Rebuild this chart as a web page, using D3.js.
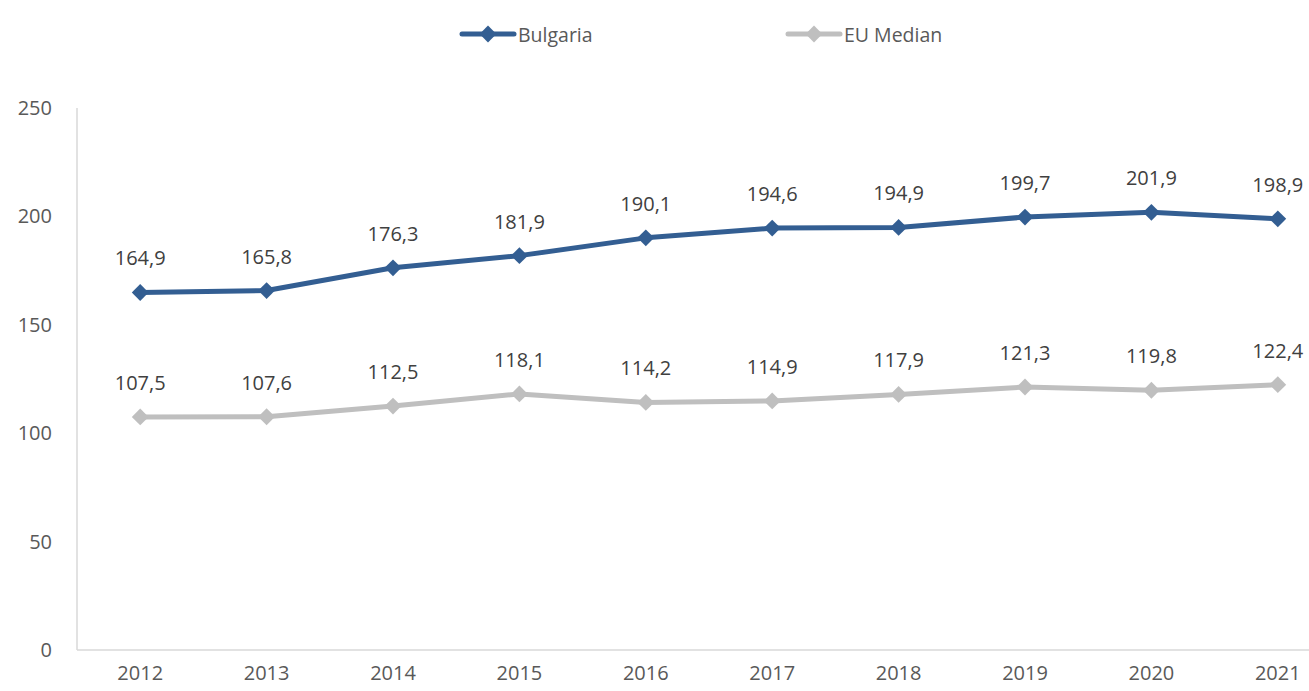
<!DOCTYPE html>
<html>
<head>
<meta charset="utf-8">
<script src="https://cdn.jsdelivr.net/npm/d3@7"></script>
<style>
  body { margin: 0; background: #fff; }
  svg { display: block; font-family: "Open Sans", sans-serif; }
</style>
</head>
<body>
<svg id="chart" width="1309" height="691"></svg>
<script>
const years = ["2012", "2013", "2014", "2015", "2016", "2017", "2018", "2019", "2020", "2021"];
const bulgaria = [164.9, 165.8, 176.3, 181.9, 190.1, 194.6, 194.9, 199.7, 201.9, 198.9];
const euMedian = [107.5, 107.6, 112.5, 118.1, 114.2, 114.9, 117.9, 121.3, 119.8, 122.4];
const yTicks = [0, 50, 100, 150, 200, 250];

const series = [
  { name: "Bulgaria", values: bulgaria, color: "#335e92", legendX: 462 },
  { name: "EU Median", values: euMedian, color: "#bfbfbf", legendX: 788 },
];

const svg = d3.select("#chart");
const textColor = "#595959";
const fontSize = 20;

const x = d3.scaleBand().domain(years).range([77, 1341]);
const y = d3.scaleLinear().domain([0, 250]).range([650, 108]);
const cx = (d) => x(d) + x.bandwidth() / 2;

// axes
const xAxis = svg.append("g").attr("transform", "translate(0,650)")
  .call(d3.axisBottom(x).tickSize(0).tickPadding(16));
xAxis.select(".domain").attr("stroke", "#d9d9d9").attr("stroke-width", 1.5)
  .attr("d", "M77,0H1341");
xAxis.selectAll("text").attr("font-size", fontSize).attr("fill", textColor)
  .attr("font-family", "Open Sans");

const yAxis = svg.append("g").attr("transform", "translate(77,0)")
  .call(d3.axisLeft(y).tickValues(yTicks).tickSize(0).tickPadding(25));
yAxis.select(".domain").attr("stroke", "#d9d9d9").attr("stroke-width", 1.5)
  .attr("d", "M0,108V650");
yAxis.selectAll("text").attr("font-size", fontSize).attr("fill", textColor)
  .attr("font-family", "Open Sans");

const line = d3.line().x((d, i) => cx(years[i])).y((d) => y(d));
const diamond = d3.symbol().type(d3.symbolDiamond2).size(180);

series.forEach((s) => {
  svg.append("path").datum(s.values)
    .attr("fill", "none").attr("stroke", s.color)
    .attr("stroke-width", 5).attr("stroke-linejoin", "round")
    .attr("d", line);

  svg.selectAll(null).data(s.values).enter().append("path")
    .attr("d", diamond)
    .attr("fill", s.color)
    .attr("transform", (d, i) => `translate(${cx(years[i])},${y(d)})`);

  svg.selectAll(null).data(s.values).enter().append("text")
    .attr("x", (d, i) => cx(years[i]))
    .attr("y", (d) => y(d) - 27)
    .attr("text-anchor", "middle")
    .attr("font-size", fontSize)
    .attr("fill", "#404040")
    .text((d) => d.toFixed(1).replace(".", ","));

  // legend
  const lg = svg.append("g");
  lg.append("line")
    .attr("x1", s.legendX).attr("x2", s.legendX + 52)
    .attr("y1", 34).attr("y2", 34)
    .attr("stroke", s.color).attr("stroke-width", 5).attr("stroke-linecap", "round");
  lg.append("path").attr("d", diamond)
    .attr("fill", s.color)
    .attr("transform", `translate(${s.legendX + 26},34)`);
  lg.append("text")
    .attr("x", s.legendX + 56).attr("y", 35)
    .attr("dy", "0.35em")
    .attr("font-size", 19.5)
    .attr("fill", textColor)
    .text(s.name);
});
</script>
</body>
</html>
